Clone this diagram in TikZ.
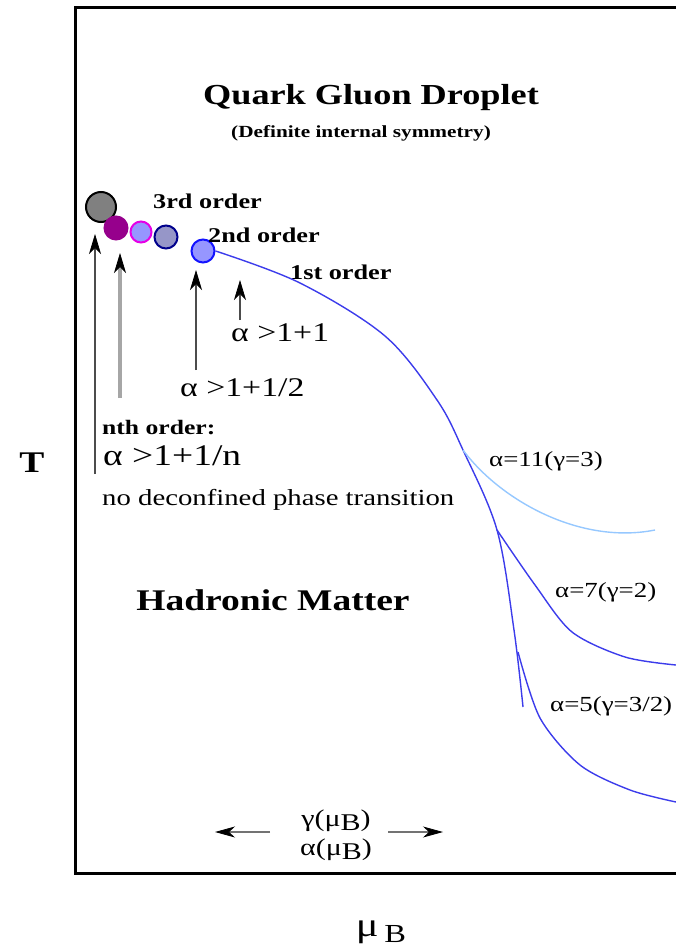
\documentclass[tikz,border=0pt]{standalone}
\usepackage{fontspec}
\setmainfont[FakeStretch=1.25]{Liberation Serif}
\usetikzlibrary{arrows.meta}
\definecolor{curveblue}{RGB}{60,60,235}
\definecolor{lightcurve}{RGB}{150,200,255}
\definecolor{dotgray}{RGB}{128,128,128}
\definecolor{dotpurple}{RGB}{150,0,140}
\definecolor{dotlblue}{RGB}{150,150,255}
\definecolor{dotmag}{RGB}{230,0,230}
\definecolor{dotslate}{RGB}{150,150,200}
\definecolor{dotnavy}{RGB}{0,0,140}
\definecolor{dotblue}{RGB}{20,20,255}
\newcommand{\fs}[1]{\fontsize{#1}{#1}\selectfont}
\tikzset{
  frameline/.style={line width=3pt,black},
  dot/.style={circle,inner sep=0pt,line width=2pt},
  boldlbl/.style={font=\bfseries\fs{21},inner sep=0pt},
  reglbl/.style={font=\fs{27},inner sep=0pt},
  smalllbl/.style={font=\fs{21.5},inner sep=0pt},
  uparrow/.style={-{Stealth[length=20pt,width=12pt,inset=6pt,black,fill=black,line width=0.8pt]},line width=1.2pt,black!70},
  sidearrow/.style={-{Stealth[length=20pt,width=11pt,inset=6pt,black,fill=black,line width=0.8pt]},line width=1.2pt,black!55},
  bcurve/.style={curveblue,line width=1.4pt},
}
\begin{document}
\begin{tikzpicture}[x=1pt,y=-1pt]
\useasboundingbox (0,0) rectangle (676,949);
% frame
\draw[frameline] (676,8) -- (75,8) -- (75,873) -- (676,873);
% titles
\node[font=\bfseries\fs{29},inner sep=0pt] (qgd) at (371,98) {Quark Gluon Droplet};
\node[font=\bfseries\fs{17},inner sep=0pt] (def) at (361,133) {(Definite internal symmetry)};
% dots
\node[dot,fill=dotgray,draw=black,minimum size=30pt] (d1) at (101,207) {};
\node[dot,fill=dotpurple,draw=dotpurple,minimum size=23pt] (d2) at (116,228) {};
\node[dot,fill=dotlblue,draw=dotmag,minimum size=21pt] (d3) at (141,232) {};
\node[dot,fill=dotslate,draw=dotnavy,minimum size=23pt] (d4) at (166,237) {};
\node[dot,fill=dotlblue,draw=dotblue,minimum size=23pt] (d5) at (203,251) {};
% order labels
\node[boldlbl,anchor=west] (o3) at (153,201) {3rd order};
\node[boldlbl,anchor=west] (o2) at (208,235) {2nd order};
\node[boldlbl,anchor=west] (o1) at (290,272) {1st order};
% curves
\coordinate (b11) at (463,450);
\coordinate (b7) at (497,530);
\coordinate (b5) at (518,652);
\draw[bcurve] plot[smooth,tension=0.55] coordinates {(d5.east) (300,283) (385,336) (437,400) (463,450) (497,530) (514,630) (523,707)};
\draw[lightcurve,line width=1.4pt] (b11) .. controls (500,500) and (580,545) .. (655,530);
\draw[bcurve] plot[smooth,tension=0.5] coordinates {(b7) (535,585) (572,632) (625,657) (676,665)};
\draw[bcurve] plot[smooth,tension=0.5] coordinates {(b5) (540,718) (580,765) (630,790) (676,802)};
\node[smalllbl,anchor=west] (l11) at (489,461) {α=11(γ=3)};
\node[smalllbl,anchor=west] (l7) at (555,592) {α=7(γ=2)};
\node[smalllbl,anchor=west] (l5) at (550,706) {α=5(γ=3/2)};
% arrows
\coordinate (a1s) at (95,474);
\coordinate (a1e) at (95,234);
\coordinate (a2s) at (120,398);
\coordinate (a2e) at (120,253);
\coordinate (a3s) at (196,370);
\coordinate (a3e) at (196,270);
\coordinate (a4s) at (240,320);
\coordinate (a4e) at (240,280);
\draw[uparrow,line width=1.3pt] (a1s) -- (a1e);
\draw[uparrow,black!35,line width=3.5pt] (a2s) -- (a2e);
\draw[uparrow] (a3s) -- (a3e);
\draw[uparrow] (a4s) -- (a4e);
% conditions
\node[reglbl,anchor=west] (c1) at (231,333) {α >1+1};
\node[reglbl,anchor=west] (c2) at (180,388) {α >1+1/2};
\node[boldlbl,font=\bfseries\fs{20.5},anchor=west] (nth) at (102,428) {nth order:};
\node[reglbl,font=\fs{30},anchor=west] (cn) at (103,456) {α >1+1/n};
\node[reglbl,font=\fs{23},anchor=west] (nodec) at (102,500) {no deconfined phase transition};
\node[font=\bfseries\fs{30},inner sep=0pt] (had) at (273,600) {Hadronic Matter};
\node[font=\bfseries\fs{30},inner sep=0pt] (T) at (32,463) {T};
% bottom
\node[font=\fs{24},inner sep=0pt] (gam) at (336,821) {γ(μ\raisebox{-0.35ex}{B})};
\node[font=\fs{24},inner sep=0pt] (alp) at (336,850) {α(μ\raisebox{-0.35ex}{B})};
\coordinate (la) at (215,832);
\coordinate (ra) at (443,832);
\draw[sidearrow] (270,832) -- (la);
\draw[sidearrow] (388,832) -- (ra);
\node[font=\fs{34},inner sep=0pt] (mu) at (381,932) {μ\,\raisebox{-0.4ex}{\fs{26}B}};
\end{tikzpicture}
\end{document}
